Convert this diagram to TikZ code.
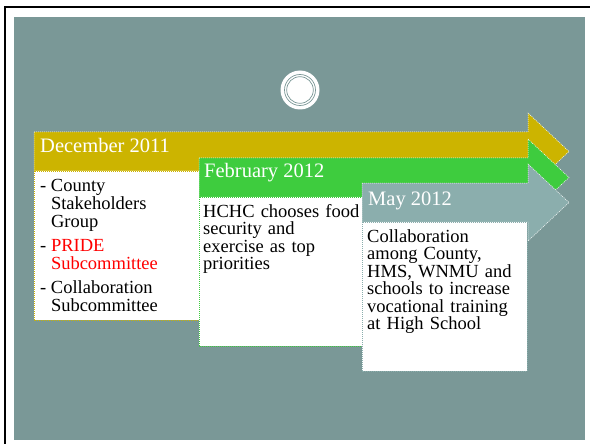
\documentclass[tikz,border=0pt]{standalone}
\usepackage{fontspec}
\setmainfont{Liberation Serif}
\usetikzlibrary{calc}
\definecolor{slidebg}{RGB}{122,152,151}
\definecolor{decyellow}{RGB}{204,180,0}
\definecolor{febgreen}{RGB}{62,204,62}
\definecolor{maygray}{RGB}{139,174,173}
\newcommand{\stageitem}[1]{\hangindent=10.8pt\hangafter=1\noindent\makebox[10.8pt][l]{-}#1\par}

\begin{document}
\begin{tikzpicture}[x=1pt, y=-1pt,
  datetext/.style={anchor=base west, inner sep=0pt, text=white, font=\fontsize{20.5}{22}\selectfont},
  bodytext/.style={anchor=base west, inner sep=0pt, align=left, text width=158pt, font=\fontsize{18.5}{17.6}\selectfont},
  barline/.style={draw=white, line width=.5pt, dash pattern=on 1pt off 1pt},
  boxline/.style={line width=.5pt, dash pattern=on 1pt off 1pt}]
\useasboundingbox (0,0) rectangle (590,444);
% slide frame
\draw[line width=2pt] (5,450) -- (5,7) -- (600,7);
\fill[slidebg] (14,17) rectangle (585,440);
\node[circle, fill=white, minimum size=39pt, inner sep=0pt] (logo) at (300,90) {};
\draw[slidebg, line width=.7pt] (logo.center) circle (15.5) (logo.center) circle (13.3);

% arrows and boxes, left/top/box right
\foreach \l/\t/\r/\c in {34/132/199/decyellow, 199/158/362/febgreen, 362/183/527/maygray} {
\filldraw[fill=\c, barline] (\l,\t) -- (528,\t) -- (528,\t-19) -- (569,\t+19.5) -- (528,\t+58) -- (528,\t+39) -- (\l,\t+39) -- cycle;
\filldraw[fill=white, draw=\c, boxline] (\l,\t+39) rectangle (\r,\t+188);
}

\node[datetext] (dec) at (40,153) {December 2011};
\node[datetext] (feb) at (204,178) {February 2012};
\node[datetext] (may) at (368,205) {May 2012};

\node[bodytext, text width=155pt] (decitems) at (40,192) {\setlength{\parskip}{6.9pt}%
\stageitem{County\newline Stakeholders\newline Group}
\stageitem{\textcolor{red}{PRIDE\newline Subcommittee}}
\stageitem{Collaboration\newline Subcommittee}};
\node[bodytext] (febtext) at (203,217) {HCHC chooses food\\security and\\exercise as top\\priorities};
\node[bodytext] (maytext) at (367,242) {Collaboration\\among County,\\HMS, WNMU and\\schools to increase\\vocational training\\at High School};
\end{tikzpicture}
\end{document}
